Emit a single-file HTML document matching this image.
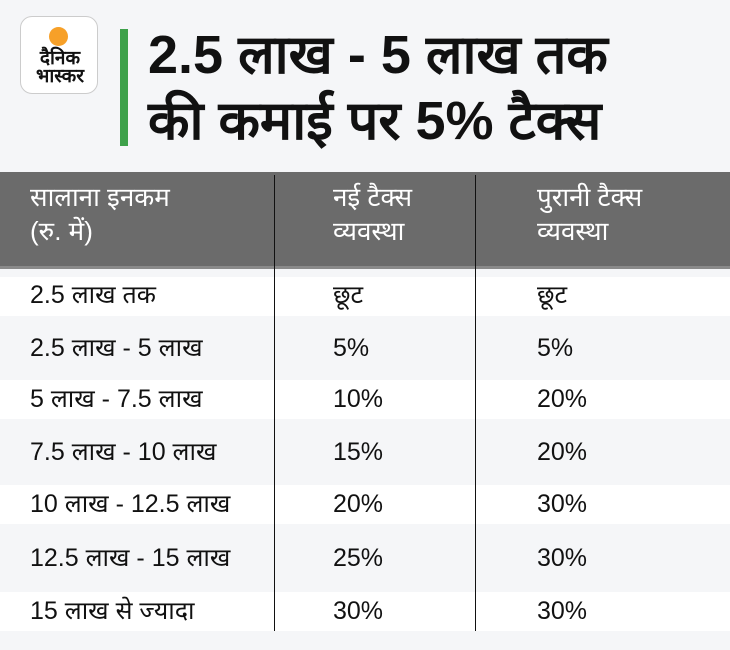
<!DOCTYPE html>
<html><head><meta charset="utf-8"><style>
body{margin:0;width:730px;height:650px;background:#f5f6f8;position:relative;overflow:hidden;font-family:"Liberation Sans","Noto Sans CJK SC",sans-serif}
.abs{position:absolute}
.logo{left:20px;top:16px;width:78px;height:78px;background:#fff;border:1px solid #ccc;border-radius:12px;box-sizing:border-box}
.dot{left:49px;top:27px;width:19px;height:19px;border-radius:50%;background:#f7a028}
.lt{left:24px;width:72px;text-align:center;font-weight:bold;font-size:19px;line-height:18px;color:#111}
.bar{left:120px;top:29px;width:8px;height:117px;background:#3ea14a}
.title{left:148px;top:22px;font-size:54px;font-weight:bold;line-height:66px;color:#111;white-space:nowrap}
.hdr{left:0;top:172px;width:730px;height:96px;background:#6b6b6b}
.hdrb{left:0;top:266px;width:730px;height:3px;background:#8a8a8a}
.ht{color:#fff;font-size:26px;line-height:34px;top:180px;white-space:nowrap}
.vl{width:1px;background:#111;top:175px;height:456px}
.row{left:0;width:730px}
.c{font-size:25px;color:#111;white-space:nowrap;line-height:30px}
</style></head><body>
<div class="abs logo"></div><div class="abs dot"></div>
<div class="abs lt" style="top:50px">दैनिक</div><div class="abs lt" style="top:68px">भास्कर</div>
<div class="abs bar"></div>
<div class="abs title">2.5 लाख - 5 लाख तक<br>की कमाई पर 5% टैक्स</div>
<div class="abs hdr"></div><div class="abs hdrb"></div>
<div class="abs ht" style="left:30px">सालाना इनकम<br>(रु. में)</div>
<div class="abs ht" style="left:333px">नई टैक्स<br>व्यवस्था</div>
<div class="abs ht" style="left:537px">पुरानी टैक्स<br>व्यवस्था</div>
<div class="abs row" style="top:277px;height:39px;background:#fff"></div>
<div class="abs row" style="top:380px;height:39px;background:#fff"></div>
<div class="abs row" style="top:485px;height:39px;background:#fff"></div>
<div class="abs row" style="top:592px;height:39px;background:#fff"></div>
<div class="abs vl" style="left:274px"></div><div class="abs vl" style="left:475px"></div>
<div class="abs c" style="left:30px;top:280px">2.5 लाख तक</div><div class="abs c" style="left:333px;top:280px">छूट</div><div class="abs c" style="left:537px;top:280px">छूट</div>
<div class="abs c" style="left:30px;top:333px">2.5 लाख - 5 लाख</div><div class="abs c" style="left:333px;top:333px">5%</div><div class="abs c" style="left:537px;top:333px">5%</div>
<div class="abs c" style="left:30px;top:384px">5 लाख - 7.5 लाख</div><div class="abs c" style="left:333px;top:384px">10%</div><div class="abs c" style="left:537px;top:384px">20%</div>
<div class="abs c" style="left:30px;top:437px">7.5 लाख - 10 लाख</div><div class="abs c" style="left:333px;top:437px">15%</div><div class="abs c" style="left:537px;top:437px">20%</div>
<div class="abs c" style="left:30px;top:489px">10 लाख - 12.5 लाख</div><div class="abs c" style="left:333px;top:489px">20%</div><div class="abs c" style="left:537px;top:489px">30%</div>
<div class="abs c" style="left:30px;top:543px">12.5 लाख - 15 लाख</div><div class="abs c" style="left:333px;top:543px">25%</div><div class="abs c" style="left:537px;top:543px">30%</div>
<div class="abs c" style="left:30px;top:596px">15 लाख से ज्यादा</div><div class="abs c" style="left:333px;top:596px">30%</div><div class="abs c" style="left:537px;top:596px">30%</div>
</body></html>
